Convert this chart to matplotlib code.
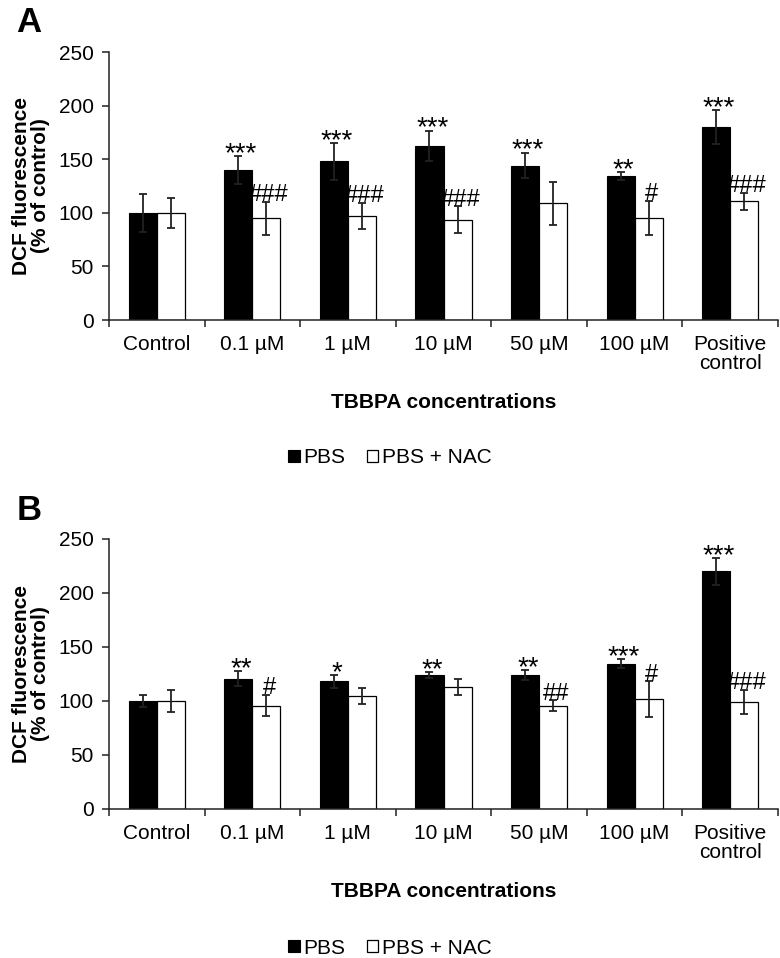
import matplotlib
matplotlib.use("Agg")
import matplotlib.pyplot as plt
from matplotlib.patches import Patch
import numpy as np

plt.rcParams['font.family'] = ['Liberation Sans', 'DejaVu Sans']

categories = ['Control', '0.1 µM', '1 µM', '10 µM', '50 µM', '100 µM', 'Positive\ncontrol']
series_names = ['PBS', 'PBS + NAC']

# Panel A
a_pbs = [100, 140, 148, 162.5, 144, 134.5, 180]
a_pbs_err = [18, 13, 17, 14, 12, 3.7, 16]
a_nac = [100, 94.7, 97, 93.5, 109, 95.4, 110.8]
a_nac_err = [14, 15.5, 12.5, 12.5, 20, 16, 8]
a_pbs_sig = ['', '***', '***', '***', '***', '**', '***']
a_nac_sig = ['', '###', '###', '###', '', '#', '###']

# Panel B
b_pbs = [100, 120.7, 118.2, 124, 124, 134.6, 220]
b_pbs_err = [6, 7, 6, 2.5, 4.6, 4.3, 12.4]
b_nac = [100, 95.7, 105, 113, 95.7, 101.6, 99.4]
b_nac_err = [10, 9.7, 7.5, 7, 5, 16.6, 11]
b_pbs_sig = ['', '**', '*', '**', '**', '***', '***']
b_nac_sig = ['', '#', '', '', '##', '#', '###']

y_ticks = [0, 50, 100, 150, 200, 250]
ylabel = 'DCF fluorescence\n(% of control)'
xlabel = 'TBBPA concentrations'

W, H = 780, 958
fig = plt.figure(figsize=(W / 100, H / 100), dpi=100)

FS = 15
AXC = '#222222'


def panel(rect, pbs, pbs_err, nac, nac_err, pbs_sig, nac_sig, letter, letter_xy):
    ax = fig.add_axes(rect)
    x = np.arange(len(categories))
    w = 0.293
    ax.bar(x - w / 2, pbs, w, color='black', edgecolor='black', linewidth=0.8,
           label=series_names[0], zorder=2)
    ax.bar(x + w / 2, nac, w, color='white', edgecolor='black', linewidth=0.9,
           label=series_names[1], zorder=2)
    ax.errorbar(x - w / 2, pbs, yerr=pbs_err, fmt='none', ecolor='#222222',
                elinewidth=1.3, capsize=2.8, capthick=1.3, zorder=3)
    ax.errorbar(x + w / 2, nac, yerr=nac_err, fmt='none', ecolor='#222222',
                elinewidth=1.3, capsize=2.8, capthick=1.3, zorder=3)
    for i in range(len(categories)):
        if pbs_sig[i]:
            ax.annotate(pbs_sig[i], xy=(x[i] - w / 2, pbs[i] + pbs_err[i]),
                        xytext=(2, -3.5), textcoords='offset points',
                        ha='center', va='baseline', fontsize=20, color='black')
        if nac_sig[i]:
            ax.annotate(nac_sig[i], xy=(x[i] + w / 2, nac[i] + nac_err[i]),
                        xytext=(2, 0.5), textcoords='offset points',
                        ha='center', va='baseline', fontsize=17, color='black')
    ax.set_xlim(-0.5, len(categories) - 0.5)
    ax.set_ylim(0, 250)
    ax.set_yticks(y_ticks)
    ax.set_yticklabels([str(t) for t in y_ticks], fontsize=FS)
    ax.set_xticks(x)
    ax.set_xticklabels(categories, fontsize=FS, linespacing=1.0)
    ax.set_xticks(np.arange(len(categories) + 1) - 0.5, minor=True)
    ax.tick_params(axis='x', which='major', length=0, pad=11)
    ax.tick_params(axis='x', which='minor', length=5, width=1.1, color=AXC, direction='out')
    ax.tick_params(axis='y', which='major', length=5, width=1.1, color=AXC, pad=6)
    for s in ['top', 'right']:
        ax.spines[s].set_visible(False)
    for s in ['left', 'bottom']:
        ax.spines[s].set_linewidth(1.1)
        ax.spines[s].set_color(AXC)
    ax.set_ylabel(ylabel, fontsize=FS, fontweight='bold', labelpad=6, linespacing=1.0)
    ax.set_xlabel(xlabel, fontsize=FS, fontweight='bold', labelpad=14)
    fig.text(letter_xy[0] / W, 1 - letter_xy[1] / H, letter, fontsize=25,
             fontweight='bold', ha='center', va='center')
    handles = [Patch(facecolor='black', edgecolor='black', linewidth=0.8),
               Patch(facecolor='white', edgecolor='black', linewidth=0.9)]
    return ax, handles


left = 109 / W
width = (778 - 109) / W
axA, hA = panel([left, 1 - 320 / H, width, 268 / H], a_pbs, a_pbs_err, a_nac, a_nac_err,
                a_pbs_sig, a_nac_sig, 'A', (29, 22))
axB, hB = panel([left, 1 - 809 / H, width, 270 / H], b_pbs, b_pbs_err, b_nac, b_nac_err,
                b_pbs_sig, b_nac_sig, 'B', (29, 511))

for ax, h, yc in [(axA, hA, 458), (axB, hB, 948)]:
    fig.legend(h, series_names, loc='center', bbox_to_anchor=(390 / W, 1 - yc / H),
               ncol=2, frameon=False, fontsize=FS, handlelength=0.55, handleheight=0.55,
               handletextpad=0.2, columnspacing=1.0, borderpad=0, borderaxespad=0)

fig.savefig('out.png', dpi=100)
